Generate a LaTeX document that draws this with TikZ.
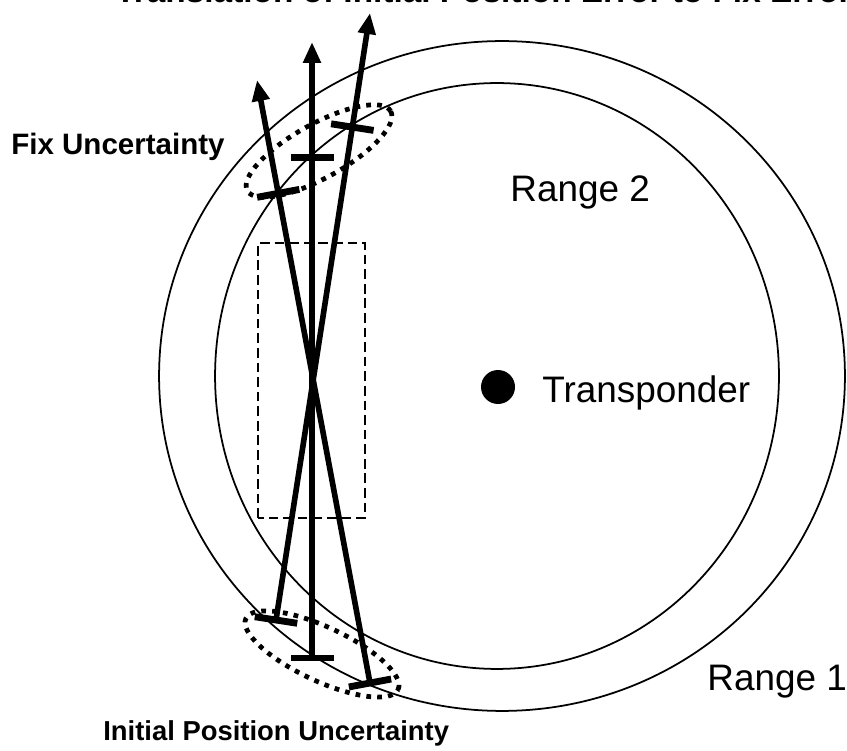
\documentclass[tikz,border=0pt]{standalone}
\usepackage{fontspec}
\setmainfont{Liberation Sans}
\usetikzlibrary{arrows.meta}

\begin{document}
\begin{tikzpicture}[x=0.02cm, y=0.02cm,
        rangecirc/.style={line width=1pt},
        fixline/.style={line width=3.2pt, -{Triangle[length=0.42cm, width=0.34cm]}},
        tickbar/.style={sloped, fill, inner sep=0pt, minimum width=3.9pt, minimum height=0.86cm},
        uncert/.style={line width=2.7pt, dash pattern=on 2.7pt off 3.5pt},
        dashbox/.style={line width=0.9pt, dash pattern=on 5.5pt off 2.8pt},
        boldlabel/.style={font=\fontsize{16pt}{19pt}\selectfont\bfseries, anchor=base west, inner sep=0pt},
        rangelabel/.style={font=\fontsize{21pt}{25pt}\selectfont, anchor=base west, inner sep=0pt}]
    \clip (0,0) rectangle (847,750);

    % range circles
    \draw[rangecirc] (502,374) ellipse [x radius=6.86cm, y radius=6.7cm];
    \draw[rangecirc] (497,374) ellipse [x radius=5.64cm, y radius=5.86cm];
    \node[circle, fill, inner sep=0pt, minimum size=0.68cm] (xpdr) at (498,363) {};

    % search box
    \draw[dashbox] (258,232) rectangle (365,507);

    % uncertainty regions
    \draw[uncert] (319,599) ellipse [x radius=1.64cm, y radius=0.54cm, rotate=29];
    \draw[uncert] (322,96) ellipse [x radius=1.68cm, y radius=0.54cm, rotate=-25];

    % fix lines
    \coordinate (a0) at (276,130);
    \coordinate (a1) at (370,737);
    \coordinate (v0) at (312,92);
    \coordinate (v1) at (312,708);
    \coordinate (b0) at (370,67);
    \coordinate (b1) at (257,670);
    \foreach \s in {a,v,b}
        \draw[fixline] (\s0) -- (\s1) node[pos=0, tickbar] {} node[pos=0.812, tickbar] {};

    % labels
    \node[font=\fontsize{19pt}{23pt}\selectfont\bfseries, anchor=base west, inner sep=0pt] (title) at (115,747) {Translation of Initial Position Error to Fix Error};
    \node[rangelabel] (r2) at (510,548) {Range 2};
    \node[rangelabel] (r1) at (707,60) {Range 1};
    \node[rangelabel] (xlabel) at (542,347) {Transponder};
    \node[boldlabel, font=\fontsize{16.8pt}{19pt}\selectfont\bfseries] (fixunc) at (11,595) {Fix Uncertainty};
    \node[boldlabel, font=\fontsize{15.6pt}{19pt}\selectfont\bfseries] (initunc) at (103,10) {Initial Position Uncertainty};
\end{tikzpicture}
\end{document}
